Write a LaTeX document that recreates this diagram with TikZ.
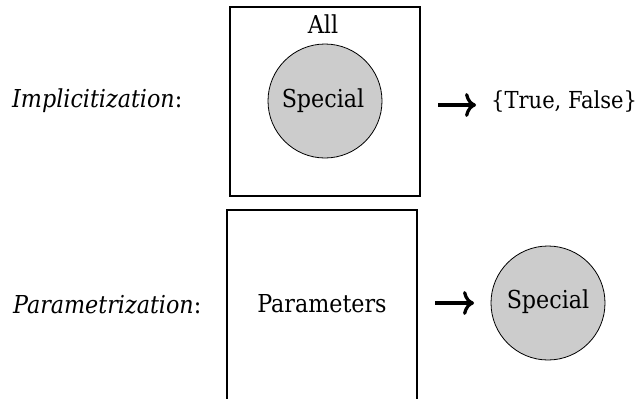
\documentclass[tikz,border=0pt]{standalone}
\usepackage{fontspec}
\setmainfont{DejaVu Serif Condensed}
\usetikzlibrary{arrows.meta}
\begin{document}
\begin{tikzpicture}[x=1bp,y=-1bp,
  txt/.style={font=\fontsize{24.8}{29}\selectfont, inner sep=0pt},
  smalltxt/.style={font=\fontsize{23.5}{28}\selectfont, inner sep=0pt},
  frame/.style={draw, line width=1.8bp, minimum width=190bp, minimum height=189bp, inner sep=0pt},
  blob/.style={circle, draw, line width=0.8bp, fill=black!20, minimum size=114bp, inner sep=0pt},
  maps/.style={line width=3.2bp, -{Computer Modern Rightarrow[length=11bp,width=24bp]}}]
\useasboundingbox (0,0) rectangle (636,398);
\clip (0,0) rectangle (636,398);
% top row
\node[frame] (all) at (325,101.5) {};
\node[blob] (sp1) at (325,101) {};
\node[txt, anchor=base] (alltxt) at (323,33) {All};
\node[txt, anchor=base] (sptxt1) at (323,107) {Special};
\node[txt, anchor=base west] (impl) at (12,107) {\textit{Implicitization}:};
\node[smalltxt, anchor=base west] (tf) at (491,108) {\{True, False\}};
\coordinate (a1s) at (438,105);
\coordinate (a1e) at (476,105);
\draw[maps] (a1s) -- (a1e);
% bottom row
\node[frame, minimum height=200bp] (par) at (322,310) {};
\node[txt, anchor=base] (partxt) at (322,312) {Parameters};
\node[txt, anchor=base west] (param) at (13,313) {\textit{Parametrization}:};
\node[blob] (sp2) at (548,303) {};
\node[txt, anchor=base] (sptxt2) at (548,308) {Special};
\coordinate (a2s) at (435,303);
\coordinate (a2e) at (474,303);
\draw[maps] (a2s) -- (a2e);
\end{tikzpicture}
\end{document}
